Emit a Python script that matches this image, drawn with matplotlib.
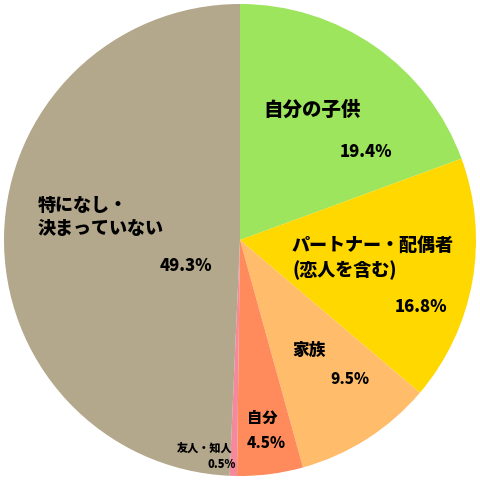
import matplotlib.pyplot as plt

plt.rcParams['font.family'] = ['Noto Sans CJK JP', 'DejaVu Sans']

# データ
labels = ['自分の子供', 'パートナー・配偶者\n(恋人を含む)', '家族', '自分', '友人・知人', '特になし・\n決まっていない']
values = [19.4, 16.8, 9.5, 4.5, 0.5, 49.3]
pct_labels = ['19.4%', '16.8%', '9.5%', '4.5%', '0.5%', '49.3%']
colors = ['#9de55c', '#ffd800', '#ffbd6b', '#ff8a5b', '#f5899b', '#b3a78c']

fig = plt.figure(figsize=(4.8, 4.8), dpi=100)
ax = fig.add_axes([0, 0, 1, 1])
ax.pie(values, colors=colors, startangle=90, counterclock=False, radius=236,
       center=(0, 0), wedgeprops=dict(linewidth=0))
ax.set_xlim(-240, 240)
ax.set_ylim(-240, 240)
ax.set_aspect('equal')
ax.axis('off')

# ラベル位置 (画像のピクセル座標)
name_pos = [(263, 110, 'left'), (292, 258, 'left'), (292, 350, 'left'),
            (247, 418, 'left'), (232, 448, 'right'), (38, 217, 'left')]
pct_pos = [(340, 152, 'left'), (395, 307, 'left'), (330, 380, 'left'),
           (247, 443, 'left'), (236, 464, 'right'), (160, 266, 'left')]
name_size = [14, 13, 12, 11, 8, 13]
pct_size = [12, 12, 11, 11, 8, 12]

for i in range(len(labels)):
    x, y, ha = name_pos[i]
    ax.text(x - 240, 240 - y, labels[i], ha=ha, va='center', fontsize=name_size[i],
            fontweight='black', linespacing=1.3)
    x, y, ha = pct_pos[i]
    ax.text(x - 240, 240 - y, pct_labels[i], ha=ha, va='center', fontsize=pct_size[i],
            fontweight='black')

fig.savefig('out.png', dpi=100)
